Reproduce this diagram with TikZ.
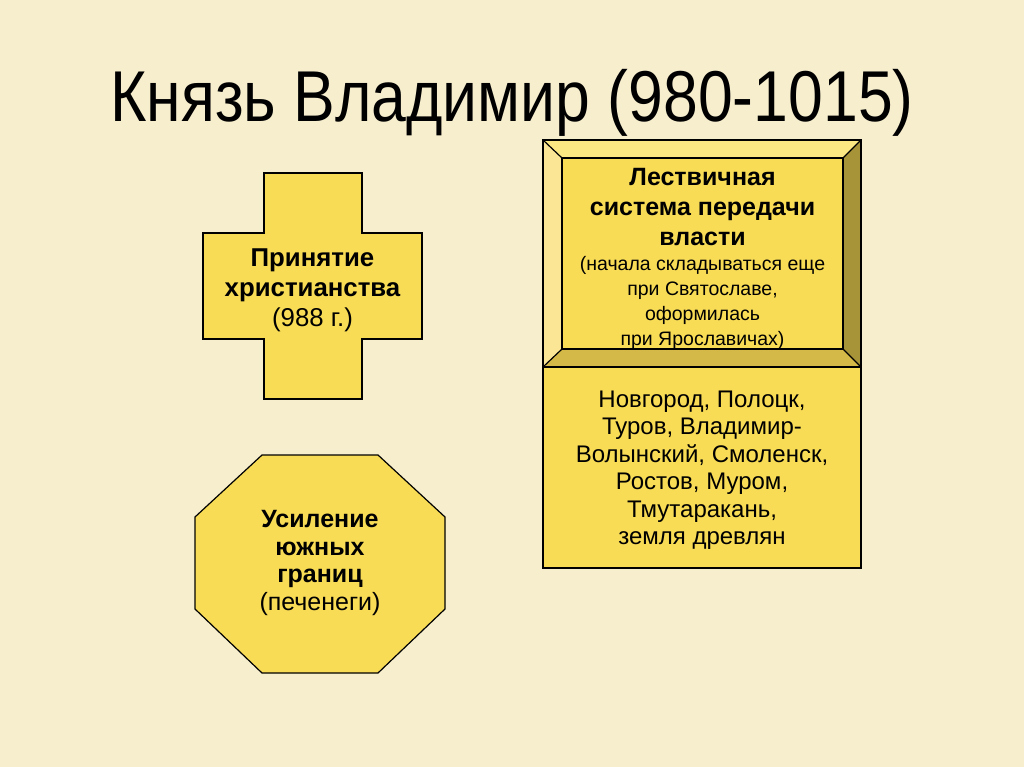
\documentclass[tikz,border=0pt]{standalone}
\usepackage{fontspec}
\setmainfont{Liberation Sans}
\definecolor{bg}{RGB}{247,238,206}
\definecolor{gold}{RGB}{248,220,86}
\definecolor{bevtop}{RGB}{251,232,130}
\definecolor{bevleft}{RGB}{251,230,150}
\definecolor{bevright}{RGB}{168,148,56}
\definecolor{bevbot}{RGB}{212,184,72}
\begin{document}
\begin{tikzpicture}[x=1pt,y=-1pt,
  shapeline/.style={draw=black,line width=1.2pt,line join=miter},
  boldtext/.style={font=\fontsize{25}{30}\selectfont\bfseries,align=center,inner sep=0pt},
  plaintext/.style={font=\fontsize{24}{27.5}\selectfont,align=center,inner sep=0pt}]
\useasboundingbox (0,0) rectangle (1024,767);
\fill[bg] (0,0) rectangle (1024,767);
% title
\node[anchor=base,inner sep=0pt,font=\fontsize{72}{80}\selectfont] (title) at (512,122) {\scalebox{0.868}[1]{Князь Владимир (980-1015)}};
% cross
\filldraw[shapeline,fill=gold] (264,173) -- (362,173) -- (362,233) -- (422,233) -- (422,339) -- (362,339) -- (362,399) -- (264,399) -- (264,339) -- (203,339) -- (203,233) -- (264,233) -- cycle;
\node[boldtext,font=\fontsize{25.8}{30}\selectfont\bfseries] (cross) at (312.5,290) {Принятие\\христианства\\{\mdseries (988 г.)}};
% octagon
\filldraw[shapeline,fill=gold] (262,455) -- (378,455) -- (445,517) -- (445,609) -- (378,673) -- (262,673) -- (195,609) -- (195,517) -- cycle;
\node[boldtext,font=\fontsize{25}{27.8}\selectfont\bfseries] (octa) at (320,563) {Усиление\\южных\\границ\\{\mdseries (печенеги)}};
% bevel box
\fill[gold] (562,158) rectangle (843,349);
\fill[bevtop] (543,140) -- (861,140) -- (843,158) -- (562,158) -- cycle;
\fill[bevleft] (543,140) -- (562,158) -- (562,349) -- (543,367) -- cycle;
\fill[bevright] (861,140) -- (861,367) -- (843,349) -- (843,158) -- cycle;
\fill[bevbot] (543,367) -- (562,349) -- (843,349) -- (861,367) -- cycle;
\draw[shapeline] (543,140) rectangle (861,367);
\draw[shapeline] (562,158) rectangle (843,349);
\draw[shapeline] (543,140) -- (562,158);
\draw[shapeline] (861,140) -- (843,158);
\draw[shapeline] (543,367) -- (562,349);
\draw[shapeline] (861,367) -- (843,349);
\node[boldtext] (bevtitle) at (702.5,207) {Лествичная\\система передачи\\власти};
\node[align=center,inner sep=0pt,font=\fontsize{19.5}{25}\selectfont] (bevnote) at (702.5,302.5) {(начала складываться еще\\при Святославе,\\оформилась\\при Ярославичах)};
% lower box
\filldraw[shapeline,fill=gold] (543,367) rectangle (861,568);
\node[plaintext] (cities) at (702,470) {Новгород, Полоцк,\\Туров, Владимир-\\Волынский, Смоленск,\\Ростов, Муром,\\Тмутаракань,\\земля древлян};
\end{tikzpicture}
\end{document}
